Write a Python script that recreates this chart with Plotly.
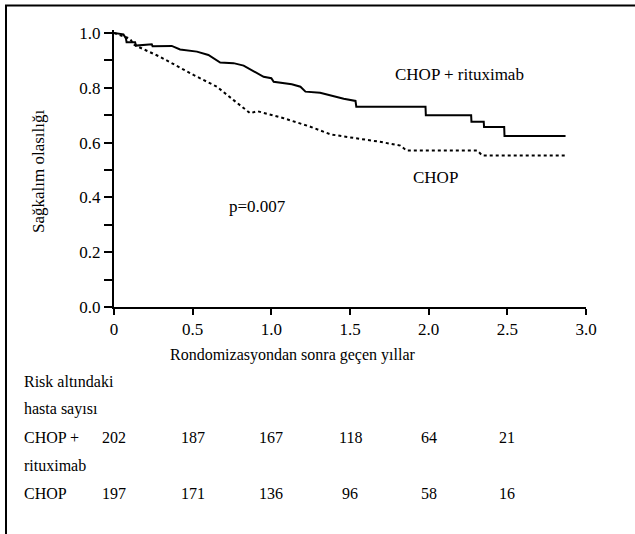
import plotly.graph_objects as go

# Kaplan-Meier curves
t_rchop = [0.0, 0.06, 0.076, 0.08, 0.134, 0.14, 0.24, 0.245, 0.367, 0.42, 0.527, 0.60, 0.675,
           0.76, 0.824, 0.951, 1.0, 1.015, 1.13, 1.185, 1.217, 1.31, 1.46, 1.535, 1.54,
           1.98, 1.982, 2.27, 2.272, 2.35, 2.352, 2.48, 2.482, 2.87]
s_rchop = [1.0, 0.995, 0.98, 0.966, 0.966, 0.954, 0.959, 0.952, 0.953, 0.94, 0.932, 0.92, 0.892,
           0.89, 0.881, 0.84, 0.835, 0.822, 0.813, 0.804, 0.786, 0.782, 0.76, 0.752, 0.731,
           0.731, 0.70, 0.70, 0.676, 0.676, 0.657, 0.657, 0.624, 0.624]

t_chop = [0.0, 0.10, 0.13, 0.293, 0.505, 0.654, 0.76, 0.866, 0.909, 1.078, 1.248, 1.376,
          1.50, 1.69, 1.82, 1.86, 2.31, 2.34, 2.87]
s_chop = [1.0, 0.98, 0.956, 0.913, 0.847, 0.804, 0.755, 0.707, 0.715, 0.689, 0.658, 0.63,
          0.619, 0.603, 0.589, 0.571, 0.571, 0.553, 0.553]

x_ticks = [0, 0.5, 1.0, 1.5, 2.0, 2.5, 3.0]
x_ticktext = ["0", "0.5", "1.0", "1.5", "2.0", "2.5", "3.0"]
y_ticks = [0.0, 0.2, 0.4, 0.6, 0.8, 1.0]
y_ticktext = ["0.0", "0.2", "0.4", "0.6", "0.8", "1.0"]

risk_times = [0, 0.5, 1.0, 1.5, 2.0, 2.5]
risk_rchop = [202, 187, 167, 118, 64, 21]
risk_chop = [197, 171, 136, 96, 58, 16]

W, H = 635, 534
FONT = "Liberation Serif"

def px(x):
    return x / W

def py(y):
    return 1 - y / H

def fnt(size):
    return dict(family=FONT, size=size, color="black")

fig = go.Figure()
fig.add_trace(go.Scatter(x=t_rchop, y=s_rchop, mode="lines",
                         line=dict(color="black", width=2), showlegend=False))
fig.add_trace(go.Scatter(x=t_chop, y=s_chop, mode="lines",
                         line=dict(color="black", width=2, dash="dot"), showlegend=False))

C = dict(xanchor="center", yanchor="middle", showarrow=False)
ann = []
ann.append(dict(x=2.197, y=0.850, xref="x", yref="y", text="CHOP + rituximab",
                font=fnt(17), **C))
ann.append(dict(x=2.045, y=0.474, xref="x", yref="y", text="CHOP", font=fnt(17), **C))
ann.append(dict(x=0.911, y=0.365, xref="x", yref="y", text="p=0.007", font=fnt(17), **C))
ann.append(dict(x=px(38), y=py(171), xref="paper", yref="paper", text="Sağkalım olasılığı",
                textangle=-90, font=fnt(17), **C))
ann.append(dict(x=px(292), y=py(355), xref="paper", yref="paper",
                text="Rondomizasyondan sonra geçen yıllar", font=fnt(16), **C))

row_labels = [("Risk altındaki", 381.7), ("hasta sayısı", 409), ("CHOP +", 437),
              ("rituximab", 465), ("CHOP", 493)]
for txt, yy in row_labels:
    ann.append(dict(x=px(22), y=py(yy), xref="paper", yref="paper", text=txt,
                    xanchor="left", yanchor="middle", showarrow=False, font=fnt(16)))
for t, a, b in zip(risk_times, risk_rchop, risk_chop):
    ann.append(dict(x=t, y=py(437), xref="x", yref="paper", text=str(a), font=fnt(16), **C))
    ann.append(dict(x=t, y=py(493), xref="x", yref="paper", text=str(b), font=fnt(16), **C))

shapes = [
    dict(type="line", xref="paper", yref="paper", x0=px(5), x1=1.0, y0=py(5.5), y1=py(5.5),
         line=dict(color="black", width=2)),
    dict(type="line", xref="paper", yref="paper", x0=px(6), x1=px(6), y0=py(5), y1=0,
         line=dict(color="black", width=2)),
]

fig.update_layout(
    width=W, height=H, autosize=False,
    margin=dict(l=0, r=0, t=0, b=0, pad=0),
    paper_bgcolor="white", plot_bgcolor="white",
    font=fnt(16),
    annotations=ann, shapes=shapes,
    xaxis=dict(domain=[px(114), px(586)], range=[0, 3.0], tickvals=x_ticks,
               ticktext=x_ticktext, ticks="outside", ticklen=6, tickwidth=1.5,
               tickcolor="black", showline=True, linecolor="black", linewidth=2,
               showgrid=False, zeroline=False, tickfont=fnt(17), automargin=False),
    yaxis=dict(domain=[py(307), py(30)], range=[0, 1.0 + 3 / 274], tickvals=y_ticks,
               ticktext=y_ticktext, ticks="outside", ticklen=8, tickwidth=1.5,
               tickcolor="black", showline=True, linecolor="black", linewidth=2,
               showgrid=False, zeroline=False, tickfont=fnt(17), automargin=False,
               minor=dict(tickvals=[0.1, 0.3, 0.5, 0.7, 0.9], ticks="outside",
                          ticklen=8, tickwidth=1.5, tickcolor="black", showgrid=False)),
)

fig.write_html("out.html", config={"displayModeBar": False})

# remove default page margins so the 635x534 figure fits the window exactly
with open("out.html", "r", encoding="utf-8") as f:
    html = f.read()
html = html.replace("<head>", "<head><style>html,body{margin:0;padding:0;overflow:hidden;}</style>", 1)
with open("out.html", "w", encoding="utf-8") as f:
    f.write(html)
